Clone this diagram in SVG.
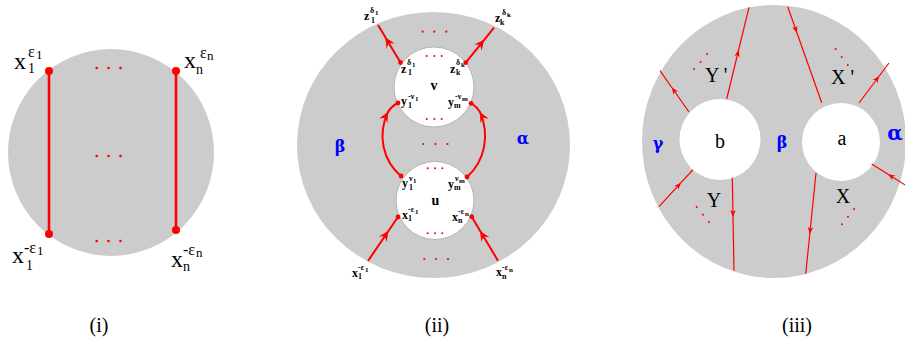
<svg xmlns="http://www.w3.org/2000/svg" width="905" height="344" viewBox="0 0 905 344">
<defs>
<style>
.disk{fill:#cccccc}
.hole{fill:#ffffff}
.hole2{fill:#ffffff;stroke:#b4b4b4;stroke-width:1}
.thick{stroke:#ff0000;stroke-width:2.6;fill:none}
.mid{stroke:#ff0000;stroke-width:2;fill:none}
.thin{stroke:#ff0000;stroke-width:1.2;fill:none}
.dot{fill:#ff0000}
.t{font-family:"Liberation Serif","DejaVu Serif",serif;fill:#000}
.big{font-size:24px}
.bs{font-size:16px}
.bsb{font-size:14px}
.bss{font-size:13px}
.sm{font-size:12px;font-weight:bold}
.ss{font-size:8px}
.sss{font-size:7px}
.gk{font-family:"DejaVu Serif","Liberation Serif",serif;fill:#0000ff;font-weight:bold}
.lab{font-size:20px}
.cap{font-size:20px}
</style>
<marker id="ah2" markerUnits="userSpaceOnUse" viewBox="-11 -6 12 12" refX="0" refY="0" markerWidth="12" markerHeight="12" orient="auto">
<path d="M0,0 L-10,-4.8 L-6.5,0 L-10,4.8 Z" fill="#ff0000"/>
</marker>
<marker id="ah3" markerUnits="userSpaceOnUse" viewBox="-8 -4 9 8" refX="0" refY="0" markerWidth="9" markerHeight="8" orient="auto">
<path d="M0,0 L-7,-2.8 L-5,0 L-7,2.8 Z" fill="#ff0000"/>
</marker>
</defs>

<!-- Panel (i) -->
<g id="disk-i">
<ellipse class="disk" cx="111" cy="152.5" rx="103" ry="103.5"/>
<circle class="dot" cx="96.7" cy="68" r="1.3"/><circle class="dot" cx="108.5" cy="68" r="1.3"/><circle class="dot" cx="120.5" cy="68" r="1.3"/>
<circle class="dot" cx="96.7" cy="156" r="1.3"/><circle class="dot" cx="108.5" cy="156" r="1.3"/><circle class="dot" cx="120.5" cy="156" r="1.3"/>
<circle class="dot" cx="96.7" cy="241" r="1.3"/><circle class="dot" cx="108.5" cy="241" r="1.3"/><circle class="dot" cx="120.5" cy="241" r="1.3"/>
</g>
<g id="label-i">
<text class="t big"><tspan x="14" y="69">x</tspan><tspan class="bsb" x="28" y="73">1</tspan><tspan class="bs" x="28" y="57">ε</tspan><tspan class="bss" x="36" y="59">1</tspan></text>
<text class="t big"><tspan x="184" y="68">x</tspan><tspan class="bsb" x="196" y="74">n</tspan><tspan class="bs" x="200" y="58">ε</tspan><tspan class="bss" x="207" y="60">n</tspan></text>
<text class="t big"><tspan x="12" y="263">x</tspan><tspan class="bsb" x="26" y="270">1</tspan><tspan class="bs" x="24" y="253">-ε</tspan><tspan class="bss" x="37" y="255">1</tspan></text>
<text class="t big"><tspan x="171" y="267">x</tspan><tspan class="bsb" x="183" y="271">n</tspan><tspan class="bs" x="183" y="255">-ε</tspan><tspan class="bss" x="196" y="257">n</tspan></text>
</g>

<!-- Panel (ii) -->
<g id="disk-ii">
<ellipse class="disk" cx="433.5" cy="145" rx="136.5" ry="133"/>
<circle class="dot" cx="422.7" cy="31.7" r="1.1"/><circle class="dot" cx="434.3" cy="31.7" r="1.1"/><circle class="dot" cx="446.3" cy="31.7" r="1.1"/>
<circle class="dot" cx="423.3" cy="144" r="1.1"/><circle class="dot" cx="435.5" cy="144" r="1.1"/><circle class="dot" cx="447.5" cy="144" r="1.1"/>
<circle class="dot" cx="424.3" cy="259" r="1.1"/><circle class="dot" cx="436" cy="259" r="1.1"/><circle class="dot" cx="448" cy="259" r="1.1"/>
</g>
<g id="hole-v">
<circle class="hole2" cx="434" cy="87" r="40"/>
<circle class="dot" cx="426.7" cy="56" r="1"/><circle class="dot" cx="434.3" cy="56" r="1"/><circle class="dot" cx="441.7" cy="56" r="1"/>
<circle class="dot" cx="426.7" cy="119" r="1"/><circle class="dot" cx="434.3" cy="119" r="1"/><circle class="dot" cx="441.7" cy="119" r="1"/>
<text class="t" x="434" y="90" text-anchor="middle" font-size="14" font-weight="bold">v</text>
</g>
<g id="hole-u">
<circle class="hole2" cx="435" cy="200.5" r="39"/>
<circle class="dot" cx="427.7" cy="168.3" r="1"/><circle class="dot" cx="435" cy="168.3" r="1"/><circle class="dot" cx="442.3" cy="168.3" r="1"/>
<circle class="dot" cx="427.7" cy="233.3" r="1"/><circle class="dot" cx="435" cy="233.3" r="1"/><circle class="dot" cx="442.3" cy="233.3" r="1"/>
<text class="t" x="435.5" y="205" text-anchor="middle" font-size="14" font-weight="bold">u</text>
</g>
<g id="label-ii">
<text class="t sm"><tspan x="364" y="20">z</tspan><tspan class="ss" x="371" y="23">1</tspan><tspan class="ss" x="370" y="13">δ</tspan><tspan class="sss" x="375" y="15">1</tspan></text>
<text class="t sm"><tspan x="495" y="22">z</tspan><tspan class="ss" x="500" y="25">k</tspan><tspan class="ss" x="502" y="15">δ</tspan><tspan class="sss" x="507" y="17">k</tspan></text>
<text class="t sm"><tspan x="401" y="73">z</tspan><tspan class="ss" x="408" y="75">1</tspan><tspan class="ss" x="407" y="65">δ</tspan><tspan class="sss" x="412" y="67">1</tspan></text>
<text class="t sm"><tspan x="450" y="73">z</tspan><tspan class="ss" x="456" y="75">k</tspan><tspan class="ss" x="456" y="65">δ</tspan><tspan class="sss" x="461" y="67">k</tspan></text>
<text class="t sm"><tspan x="401" y="105">y</tspan><tspan class="ss" x="408" y="108">1</tspan><tspan class="ss" x="408" y="99">-ν</tspan><tspan class="sss" x="415" y="101">1</tspan></text>
<text class="t sm"><tspan x="448" y="106">y</tspan><tspan class="ss" x="454" y="108">m</tspan><tspan class="ss" x="455" y="99">-ν</tspan><tspan class="sss" x="462" y="101">m</tspan></text>
<text class="t sm"><tspan x="402" y="187">y</tspan><tspan class="ss" x="409" y="190">1</tspan><tspan class="ss" x="409" y="181">ν</tspan><tspan class="sss" x="413" y="183">1</tspan></text>
<text class="t sm"><tspan x="448" y="188">y</tspan><tspan class="ss" x="454" y="190">m</tspan><tspan class="ss" x="455" y="181">ν</tspan><tspan class="sss" x="459" y="183">m</tspan></text>
<text class="t sm"><tspan x="402" y="219">x</tspan><tspan class="ss" x="408" y="221">1</tspan><tspan class="ss" x="408" y="212">-ε</tspan><tspan class="sss" x="415" y="214">1</tspan></text>
<text class="t sm"><tspan x="452" y="221">x</tspan><tspan class="ss" x="458" y="223">n</tspan><tspan class="ss" x="458" y="214">-ε</tspan><tspan class="sss" x="465" y="216">n</tspan></text>
<text class="t sm"><tspan x="352" y="277">x</tspan><tspan class="ss" x="358" y="279">1</tspan><tspan class="ss" x="358" y="270">-ε</tspan><tspan class="sss" x="365" y="272">1</tspan></text>
<text class="t sm"><tspan x="496" y="276">x</tspan><tspan class="ss" x="502" y="279">n</tspan><tspan class="ss" x="502" y="270">-ε</tspan><tspan class="sss" x="509" y="272">n</tspan></text>
<text class="gk" x="340" y="152" text-anchor="middle" font-size="16">β</text>
<text class="gk" x="523" y="144" text-anchor="middle" font-size="16">α</text>
</g>

<!-- Panel (iii) -->
<g id="disk-iii">
<ellipse class="disk" cx="774" cy="141.5" rx="132" ry="136.5"/>
<circle class="dot" cx="694" cy="69" r="1"/><circle class="dot" cx="700.5" cy="62" r="1"/><circle class="dot" cx="707" cy="54" r="1"/>
<circle class="dot" cx="835.7" cy="49" r="1"/><circle class="dot" cx="841.7" cy="57" r="1"/><circle class="dot" cx="847.7" cy="65" r="1"/>
<circle class="dot" cx="696.7" cy="207" r="1"/><circle class="dot" cx="703" cy="214.7" r="1"/><circle class="dot" cx="709" cy="222" r="1"/>
<circle class="dot" cx="854" cy="209" r="1"/><circle class="dot" cx="848" cy="216.7" r="1"/><circle class="dot" cx="842" cy="224.3" r="1"/>
</g>
<g id="hole-b">
<circle class="hole" cx="720" cy="139.5" r="40.5"/>
<text class="t lab" x="720" y="148" text-anchor="middle">b</text>
</g>
<g id="hole-a">
<circle class="hole" cx="841" cy="142" r="39"/>
<text class="t lab" x="842" y="145" text-anchor="middle">a</text>
</g>
<g id="label-iii">
<text class="t lab" x="705" y="82">Y '</text>
<text class="t lab" x="831" y="84">X '</text>
<text class="t lab" x="714" y="207" text-anchor="middle">Y</text>
<text class="t lab" x="843" y="203" text-anchor="middle">X</text>
<text class="gk" x="658" y="149" text-anchor="middle" font-size="16">γ</text>
<text class="gk" x="782" y="148" text-anchor="middle" font-size="16">β</text>
<text class="gk" x="895" y="140" text-anchor="middle" font-size="20">α</text>
</g>

<!-- Connectors -->
<g id="connectors">
<line class="thick" x1="49" y1="71" x2="49" y2="234"/>
<line class="thick" x1="176" y1="71" x2="176" y2="230"/>
<circle class="dot" cx="49" cy="71" r="4"/><circle class="dot" cx="49" cy="234" r="4"/>
<circle class="dot" cx="176" cy="71" r="4"/><circle class="dot" cx="176" cy="230" r="4"/>
<polyline class="mid" points="400.5,62.5 385.5,37.5 378,25" marker-mid="url(#ah2)"/>
<polyline class="mid" points="465.7,62.7 484.2,39.8 494,27.7" marker-mid="url(#ah2)"/>
<polyline class="mid" points="368,261 388.4,231 398,217" marker-mid="url(#ah2)"/>
<polyline class="mid" points="498,260.7 480.2,231 471.7,216.7" marker-mid="url(#ah2)"/>
<path class="mid" d="M401,176 C383,161 377,135 388,112 C391,107 394,105 398,103" marker-mid="url(#ah2)"/>
<path class="mid" d="M467,177 C485,161 490,135 480,112 C477,107 474,105 471,103" marker-mid="url(#ah2)"/>
<circle class="dot" cx="400.5" cy="62.5" r="2.4"/><circle class="dot" cx="465.7" cy="62.7" r="2.4"/>
<circle class="dot" cx="398" cy="103" r="2.4"/><circle class="dot" cx="471" cy="103.3" r="2.4"/>
<circle class="dot" cx="401" cy="176" r="2.4"/><circle class="dot" cx="467" cy="177" r="2.4"/>
<circle class="dot" cx="398" cy="217" r="2.4"/><circle class="dot" cx="471.7" cy="216.7" r="2.4"/>
<polyline class="thin" points="689,112 671.8,87.5 660,70.7" marker-mid="url(#ah3)"/>
<polyline class="thin" points="726.7,99 738.6,50 749,7.3" marker-mid="url(#ah3)"/>
<polyline class="thin" points="787.7,6.7 797,33 821.7,102.7" marker-mid="url(#ah3)"/>
<polyline class="thin" points="859,103 879.2,76 889,63" marker-mid="url(#ah3)"/>
<polyline class="thin" points="906,185.5 888,174.2 871.7,164" marker-mid="url(#ah3)"/>
<polyline class="thin" points="816,173 809.8,234 805.7,274" marker-mid="url(#ah3)"/>
<polyline class="thin" points="732.3,177.7 733,217 734,270.7" marker-mid="url(#ah3)"/>
<polyline class="thin" points="659,206.7 681,182.7 692.7,170" marker-mid="url(#ah3)"/>
</g>

<g id="captions">
<text class="t cap" x="99" y="332" text-anchor="middle">(i)</text>
<text class="t cap" x="437" y="332" text-anchor="middle">(ii)</text>
<text class="t cap" x="797" y="332" text-anchor="middle">(iii)</text>
</g>
</svg>
